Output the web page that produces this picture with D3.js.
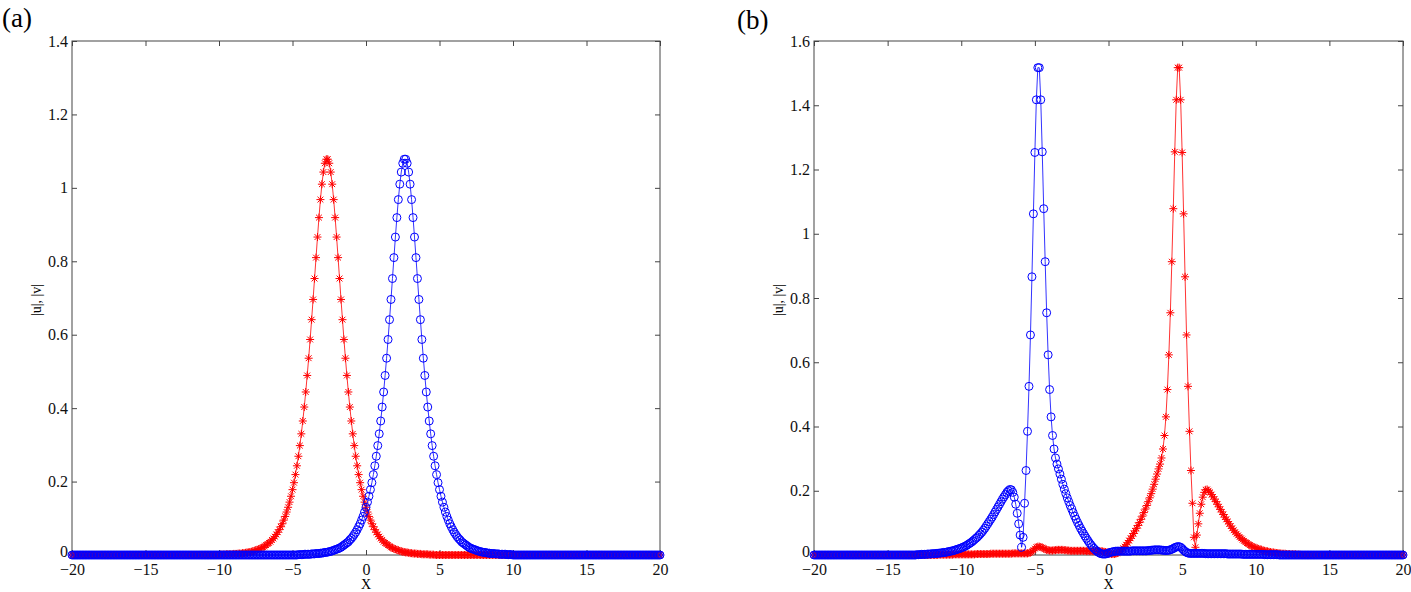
<!DOCTYPE html>
<html>
<head>
<meta charset="utf-8">
<script src="https://cdn.jsdelivr.net/npm/d3@7"></script>
<style>
  body { margin: 0; background: #fff; }
  text { font-family: "Liberation Serif", "Times New Roman", serif; }
</style>
</head>
<body>
<div id="chart"></div>
<script>
var width = 1411
var height = 592

// sample grid: 401 points from -20 to 20, step 0.1
var gridCount = 401
var xDomain = [-20, 20]
var xTicks = [-20, -15, -10, -5, 0, 5, 10, 15, 20]
var yTicksA = [0, 0.2, 0.4, 0.6, 0.8, 1, 1.2, 1.4]
var yTicksB = [0, 0.2, 0.4, 0.6, 0.8, 1, 1.2, 1.4, 1.6]

// (a) |u| red stars
var uA = [
0,0,0,0,0,0,0,0,0,0,0,0,0,0,0,0,0,0,0,0,
0,0,0,0,0,0,0,0,0,0,0,0,0,0,0,0,0,0,0,0,
0,0,0,0,0,0,0,0,0,0,0,0,0,0,0,0,0,0,0,0,
0,0,0,0,0,0,0,0,0,0,0,0,0,0,0,0,0,0,0,0,
0,0,0,0,0,0,0,0,0,0,0,0,0,0,0,0,0,0,0,0,
0,
0.001,0.001,0.001,0.001,0.002,0.002,0.002,0.002,0.002,0.003,
0.003,0.003,0.004,0.004,0.004,0.005,0.005,0.006,0.007,0.007,
0.008,0.009,0.010,0.011,0.013,0.014,0.016,0.017,0.019,0.021,
0.024,0.027,0.030,0.033,0.036,0.041,0.045,0.050,0.056,0.062,
0.069,0.077,0.085,0.095,0.105,0.117,0.130,0.144,0.160,0.178,
0.197,0.219,0.243,0.269,0.298,0.330,0.365,0.403,0.444,0.489,
0.536,0.587,0.641,0.696,0.753,0.810,0.866,0.919,0.968,1.010,
1.043,1.067,1.078,
1.078,1.067,1.043,1.010,0.968,0.919,0.866,0.810,0.753,0.696,
0.641,0.587,0.536,0.489,0.444,0.403,0.365,0.330,0.298,0.269,
0.243,0.219,0.197,0.178,0.160,0.144,0.130,0.117,0.105,0.095,
0.085,0.077,0.069,0.062,0.056,0.050,0.045,0.041,0.036,0.033,
0.030,0.027,0.024,0.021,0.019,0.017,0.016,0.014,0.013,0.011,
0.010,0.009,0.008,0.007,0.007,0.006,0.005,0.005,0.004,0.004,
0.004,0.003,0.003,0.003,0.002,0.002,0.002,0.002,0.002,0.001,
0.001,0.001,0.001,
0,0,0,0,0,0,0,0,0,0,0,0,0,0,0,0,0,0,0,0,
0,0,0,0,0,0,0,0,0,0,0,0,0,0,0,0,0,0,0,0,
0,0,0,0,0,0,0,0,0,0,0,0,0,0,0,0,0,0,0,0,
0,0,0,0,0,0,0,0,0,0,0,0,0,0,0,0,0,0,0,0,
0,0,0,0,0,0,0,0,0,0,0,0,0,0,0,0,0,0,0,0,
0,0,0,0,0,0,0,0,0,0,0,0,0,0,0,0,0,0,0,0,
0,0,0,0,0,0,0,0,0,0,0,0,0,0,0,0,0,0,0,0,
0,0,0,0,0,0,0,0,0,0,0,0,0,0
]

// (a) |v| blue circles
var vA = [
0,0,0,0,0,0,0,0,0,0,0,0,0,0,0,0,0,0,0,0,
0,0,0,0,0,0,0,0,0,0,0,0,0,0,0,0,0,0,0,0,
0,0,0,0,0,0,0,0,0,0,0,0,0,0,0,0,0,0,0,0,
0,0,0,0,0,0,0,0,0,0,0,0,0,0,0,0,0,0,0,0,
0,0,0,0,0,0,0,0,0,0,0,0,0,0,0,0,0,0,0,0,
0,0,0,0,0,0,0,0,0,0,0,0,0,0,0,0,0,0,0,0,
0,0,0,0,0,0,0,0,0,0,0,0,0,0,0,0,0,0,0,0,
0,0,0,0,0,0,0,0,0,0,0,0,0,0,
0.001,0.001,0.001,0.001,0.002,0.002,0.002,0.002,0.002,0.003,
0.003,0.003,0.004,0.004,0.004,0.005,0.005,0.006,0.007,0.007,
0.008,0.009,0.010,0.011,0.013,0.014,0.016,0.017,0.019,0.021,
0.024,0.027,0.030,0.033,0.036,0.041,0.045,0.050,0.056,0.062,
0.069,0.077,0.085,0.095,0.105,0.117,0.130,0.144,0.160,0.178,
0.197,0.219,0.243,0.269,0.298,0.330,0.365,0.403,0.444,0.489,
0.536,0.587,0.641,0.696,0.753,0.810,0.866,0.919,0.968,1.010,
1.043,1.067,1.078,
1.078,1.067,1.043,1.010,0.968,0.919,0.866,0.810,0.753,0.696,
0.641,0.587,0.536,0.489,0.444,0.403,0.365,0.330,0.298,0.269,
0.243,0.219,0.197,0.178,0.160,0.144,0.130,0.117,0.105,0.095,
0.085,0.077,0.069,0.062,0.056,0.050,0.045,0.041,0.036,0.033,
0.030,0.027,0.024,0.021,0.019,0.017,0.016,0.014,0.013,0.011,
0.010,0.009,0.008,0.007,0.007,0.006,0.005,0.005,0.004,0.004,
0.004,0.003,0.003,0.003,0.002,0.002,0.002,0.002,0.002,0.001,
0.001,0.001,0.001,
0,0,0,0,0,0,0,0,0,0,0,0,0,0,0,0,0,0,0,0,
0,0,0,0,0,0,0,0,0,0,0,0,0,0,0,0,0,0,0,0,
0,0,0,0,0,0,0,0,0,0,0,0,0,0,0,0,0,0,0,0,
0,0,0,0,0,0,0,0,0,0,0,0,0,0,0,0,0,0,0,0,
0,0,0,0,0,0,0,0,0,0,0,0,0,0,0,0,0,0,0,0,
0
]

// (b) |u| red stars
var uB = [
0,0,0,0,0,0,0,0,0,0,0,0,0,0,0,0,0,0,0,0,
0,0,0,0,0,0,0,0,0,0,0,0,0,0,0,0,0,0,0,0,
0,0,0,0,0,0,0,0,0,0,0,0,0,0,0,0,0,0,0,0,
0,0,0,0,0,0,0,0,0,0,0,0,0,0,0,0,0,0,0,0,
0,0,0,0,0,
0.001,0.001,0.001,0.001,0.001,0.001,0.001,0.001,0.001,0.001,
0.002,0.002,0.002,0.002,0.002,0.002,0.002,0.002,0.002,0.002,
0.002,0.002,0.002,0.002,0.002,0.003,0.003,0.003,0.003,0.003,
0.003,0.003,0.003,0.003,0.003,0.004,0.004,0.004,0.004,0.004,
0.004,0.004,0.004,0.004,0.004,0.004,0.004,0.004,0.004,0.004,
0.005,0.005,0.005,0.005,0.005,0.005,0.005,0.005,0.005,0.005,
0.005,0.006,0.008,0.011,0.015,0.020,0.024,0.026,0.026,0.025,
0.023,0.020,0.018,0.016,0.015,0.014,0.014,0.014,0.015,0.015,
0.016,0.016,0.016,0.016,0.016,0.015,0.015,0.014,0.014,0.013,
0.013,0.013,0.013,0.013,0.013,0.013,0.013,0.013,0.013,0.013,
0.012,0.012,0.012,0.012,0.012,0.012,0.012,0.012,0.012,0.012,
0.012,0.011,0.010,0.009,0.008,0.006,0.004,0.003,0.003,0.003,
0.004,0.006,0.009,0.012,0.016,0.021,0.026,0.032,0.038,0.045,
0.052,0.059,0.067,0.075,0.083,0.092,0.101,0.111,0.121,0.132,
0.143,0.154,0.166,0.178,0.191,0.205,0.220,0.236,0.252,0.268,
0.283,0.302,0.330,0.372,0.430,0.515,0.623,0.754,0.913,1.078,
1.255,1.417,1.517,1.517,1.417,1.253,1.062,0.866,0.685,0.525,
0.385,0.263,0.161,0.055,0.024,0.062,0.097,0.130,0.158,0.180,
0.195,0.203,0.204,0.200,0.195,0.188,0.181,0.174,0.166,0.158,
0.150,0.142,0.134,0.126,0.118,0.111,0.104,0.097,0.090,0.083,
0.077,0.071,0.066,0.061,0.056,0.052,0.048,0.044,0.040,0.037,
0.034,0.031,0.028,0.026,0.024,0.022,0.020,0.019,0.017,0.016,
0.014,0.013,0.012,0.011,0.010,0.009,0.008,0.008,0.007,0.006,
0.006,0.005,0.005,0.004,0.004,0.004,0.003,0.003,0.003,0.002,
0.002,0.002,0.002,0.001,0.001,0.001,
0,0,0,0,0,0,0,0,0,0,0,0,0,0,0,0,0,0,0,0,
0,0,0,0,0,0,0,0,0,0,0,0,0,0,0,0,0,0,0,0,
0,0,0,0,0,0,0,0,0,0,0,0,0,0,0,0,0,0,0,0,
0,0,0,0,0,0,0,0,0,0
]

// (b) |v| blue circles
var vB = [
0,0,0,0,0,0,0,0,0,0,0,0,0,0,0,0,0,0,0,0,
0,0,0,0,0,0,0,0,0,0,0,0,0,0,0,0,0,0,0,0,
0,0,0,0,0,0,0,0,0,0,0,0,0,0,0,0,0,0,0,0,
0,0,0,0,0,0,0,0,0,0,
0.001,0.001,0.001,0.002,0.002,0.002,0.002,0.003,0.003,0.003,
0.004,0.004,0.004,0.005,0.005,0.006,0.006,0.007,0.008,0.008,
0.009,0.010,0.011,0.012,0.013,0.014,0.016,0.017,0.019,0.020,
0.022,0.024,0.026,0.028,0.031,0.034,0.037,0.040,0.044,0.048,
0.052,0.056,0.061,0.066,0.071,0.077,0.083,0.090,0.097,0.104,
0.111,0.118,0.126,0.134,0.142,0.150,0.158,0.166,0.174,0.181,
0.188,0.195,0.200,0.204,0.203,0.195,0.180,0.158,0.130,0.097,
0.062,0.024,0.055,0.161,0.263,0.385,0.525,0.685,0.866,1.062,
1.253,1.417,1.517,1.517,1.417,1.255,1.078,0.913,0.754,0.623,
0.515,0.430,0.372,0.330,0.302,0.283,0.268,0.252,0.236,0.220,
0.205,0.191,0.178,0.166,0.154,0.143,0.132,0.121,0.111,0.101,
0.092,0.083,0.075,0.067,0.059,0.052,0.045,0.038,0.032,0.026,
0.021,0.016,0.012,0.009,0.006,0.004,0.003,0.003,0.003,0.004,
0.006,0.008,0.009,0.010,0.011,0.012,
0.012,0.012,0.012,0.012,0.012,0.012,0.012,0.012,0.012,0.012,
0.013,0.013,0.013,0.013,0.013,0.013,0.013,0.013,0.013,0.013,
0.013,0.014,0.014,0.015,0.015,0.016,0.016,0.016,0.016,0.016,
0.015,0.015,0.014,0.014,0.014,0.015,0.016,0.018,0.020,0.023,
0.025,0.026,0.026,0.024,0.020,0.015,0.011,0.008,0.006,0.005,
0.005,0.005,0.005,0.005,0.005,0.005,0.005,0.005,0.005,0.005,
0.004,0.004,0.004,0.004,0.004,0.004,0.004,0.004,0.004,0.004,
0.004,0.004,0.004,0.004,0.004,0.003,0.003,0.003,0.003,0.003,
0.003,0.003,0.003,0.003,0.003,0.002,0.002,0.002,0.002,0.002,
0.002,0.002,0.002,0.002,0.002,0.002,0.002,0.002,0.002,0.002,
0.001,0.001,0.001,0.001,0.001,0.001,0.001,0.001,0.001,0.001,
0,0,0,0,0,0,0,0,0,0,0,0,0,0,0,0,0,0,0,0,
0,0,0,0,0,0,0,0,0,0,0,0,0,0,0,0,0,0,0,0,
0,0,0,0,0,0,0,0,0,0,0,0,0,0,0,0,0,0,0,0,
0,0,0,0,0,0,0,0,0,0,0,0,0,0,0,0,0,0,0,0,
0,0,0,0,0
]

var xGrid = d3.range(gridCount).map(function(i) { return xDomain[0] + i * 0.1 })

var svg = d3.select('#chart')
  .append('svg')
  .attr('width', width)
  .attr('height', height)
  .style('background', '#fff')

var fmt = d3.format('~g')
var starPath = 'M-4,0H4M0,-4V4M-2.9,-2.9L2.9,2.9M-2.9,2.9L2.9,-2.9'

var panels = [
  {name: '(a)', nameX: 2, nameY: 27, left: 72, right: 660, top: 41, bottom: 555, yTicks: yTicksA, u: uA, v: vA},
  {name: '(b)', nameX: 737, nameY: 29, left: 814, right: 1403, top: 41, bottom: 555, yTicks: yTicksB, u: uB, v: vB}
]

function drawPanel(p) {
  var x = d3.scaleLinear().domain(xDomain).range([p.left, p.right])
  var y = d3.scaleLinear().domain([0, p.yTicks[p.yTicks.length - 1]]).range([p.bottom, p.top])
  var g = svg.append('g')

  var axisStyle = function(sel) {
    sel.select('.domain').remove()
    sel.selectAll('line').attr('stroke', '#444')
    sel.selectAll('text').attr('fill', '#111')
    sel.attr('font-family', '"Liberation Serif", "Times New Roman", serif').attr('font-size', 16)
  }

  g.append('g').attr('transform', 'translate(0,' + p.bottom + ')')
    .call(d3.axisBottom(x).tickValues(xTicks).tickSizeInner(-5).tickSizeOuter(0).tickPadding(9).tickFormat(fmt))
    .call(axisStyle)
  g.append('g').attr('transform', 'translate(0,' + p.top + ')')
    .call(d3.axisTop(x).tickValues(xTicks).tickSizeInner(-5).tickSizeOuter(0).tickFormat(''))
    .call(axisStyle)
  g.append('g').attr('transform', 'translate(' + p.left + ',0)')
    .call(d3.axisLeft(y).tickValues(p.yTicks).tickSizeInner(-5).tickSizeOuter(0).tickPadding(4).tickFormat(fmt))
    .call(axisStyle)
    .selectAll('.tick text').attr('dy', function(d) { return d === 0 ? '0.1em' : '0.32em' })
  g.append('g').attr('transform', 'translate(' + p.right + ',0)')
    .call(d3.axisRight(y).tickValues(p.yTicks).tickSizeInner(-5).tickSizeOuter(0).tickFormat(''))
    .call(axisStyle)

  g.append('rect')
    .attr('x', p.left).attr('y', p.top)
    .attr('width', p.right - p.left).attr('height', p.bottom - p.top)
    .attr('fill', 'none').attr('stroke', '#444').attr('stroke-width', 1)

  var line = d3.line()
    .x(function(d, i) { return x(xGrid[i]) })
    .y(function(d) { return y(d) })

  // |u| : red line with stars
  g.append('path').datum(p.u).attr('d', line)
    .attr('fill', 'none').attr('stroke', '#ff0000').attr('stroke-width', 0.8)
  g.append('g').selectAll('path').data(p.u).enter().append('path')
    .attr('transform', function(d, i) { return 'translate(' + x(xGrid[i]) + ',' + y(d) + ')' })
    .attr('d', starPath)
    .attr('fill', 'none').attr('stroke', '#ff0000').attr('stroke-width', 1)

  // |v| : blue line with circles
  g.append('path').datum(p.v).attr('d', line)
    .attr('fill', 'none').attr('stroke', '#0000ff').attr('stroke-width', 0.8)
  g.append('g').selectAll('circle').data(p.v).enter().append('circle')
    .attr('cx', function(d, i) { return x(xGrid[i]) })
    .attr('cy', function(d) { return y(d) })
    .attr('r', 4)
    .attr('fill', 'none').attr('stroke', '#0000ff').attr('stroke-width', 1)

  // labels
  g.append('text')
    .attr('x', (p.left + p.right) / 2).attr('y', 589)
    .attr('text-anchor', 'middle').attr('font-size', 14)
    .text('X')
  g.append('text')
    .attr('transform', 'translate(' + (p.left - 31) + ',' + ((p.top + p.bottom) / 2 + 2) + ') rotate(-90)')
    .attr('text-anchor', 'middle').attr('font-size', 14)
    .text('|u|, |v|')
  g.append('text')
    .attr('x', p.nameX).attr('y', p.nameY)
    .attr('font-size', 27)
    .text(p.name)
}

panels.forEach(drawPanel)
</script>
</body>
</html>
